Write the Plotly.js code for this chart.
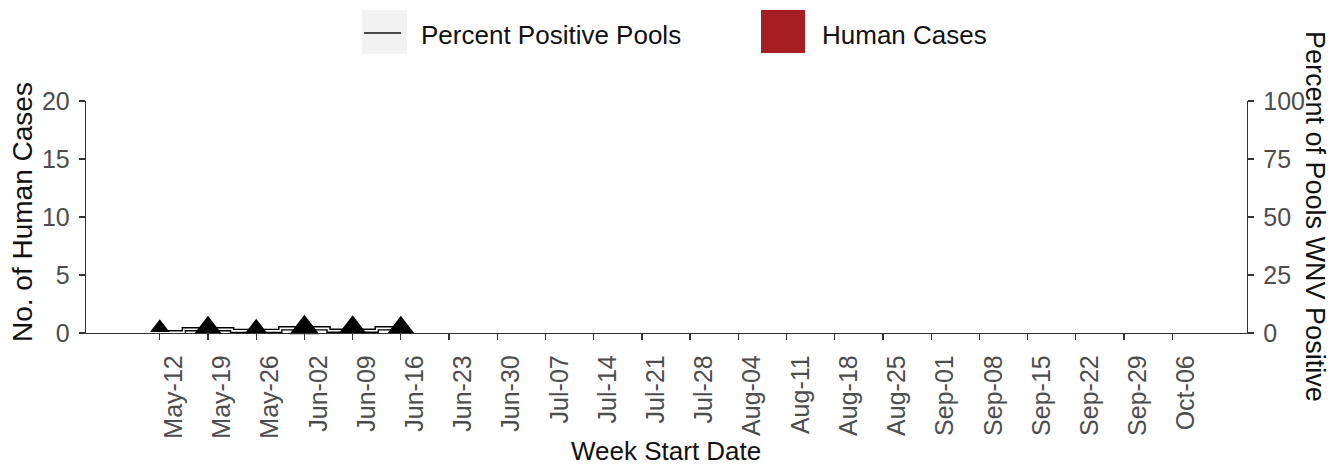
<!DOCTYPE html>
<html>
<head>
<meta charset="utf-8">
<script src="https://cdn.plot.ly/plotly-3.0.1.min.js"></script>
<style>html,body{margin:0;padding:0;background:#fff;}#chart{width:1330px;height:466px;}</style>
</head>
<body>
<div id="chart"></div>
<script>
// ---- data ----
const weeks = ["May-12","May-19","May-26","Jun-02","Jun-09","Jun-16","Jun-23","Jun-30",
  "Jul-07","Jul-14","Jul-21","Jul-28","Aug-04","Aug-11","Aug-18","Aug-25",
  "Sep-01","Sep-08","Sep-15","Sep-22","Sep-29","Oct-06"];
const humanCases = [0,0,0,0,0,0,0,0,0,0,0,0,0,0,0,0,0,0,0,0,0,0];
const sampledWeeks = ["May-12","May-19","May-26","Jun-02","Jun-09","Jun-16"];
const percentPositive = [0.3,1.6,0.9,2.0,1.0,2.0];
const sampledZero = [0,0,0,0,0,0];
const poolsTested = [6,13,7,15,14,13];
const leftTicks = [0,5,10,15,20];
const rightTicks = [0,25,50,75,100];

// ---- layout helpers ----
const L = 86, R = 1247, T = 101, B = 333;
const px = x => (x - L) / (R - L);
const py = y => (B - y) / (B - T);
const fam = "Liberation Sans, Arial, sans-serif";
const tickFont = {family: fam, size: 25, color: "#4d4d4d"};
const titleFont = {family: fam, size: 26, color: "#111"};

const traces = [
  {type: "bar", x: weeks, y: humanCases, name: "Human Cases", yaxis: "y",
   marker: {color: "#a61e22"}, showlegend: false, hoverinfo: "skip"},
  {type: "scatter", mode: "lines", x: sampledWeeks, y: percentPositive, yaxis: "y2",
   line: {shape: "hvh", color: "#000", width: 4.5}, showlegend: false},
  {type: "scatter", mode: "lines", x: sampledWeeks, y: percentPositive, yaxis: "y2",
   name: "Percent Positive Pools",
   line: {shape: "hvh", color: "#fff", width: 1.6}, showlegend: false},
  {type: "scatter", mode: "markers", x: sampledWeeks, y: sampledZero, yaxis: "y3",
   marker: {symbol: "triangle-up", color: "#000", opacity: 1, line: {width: 0},
            size: poolsTested.map(v => 11 + v)},
   opacity: 1, cliponaxis: false, showlegend: false}
];

const layout = {
  width: 1330, height: 466,
  margin: {l: L, r: 1330 - R, t: T, b: 466 - B},
  paper_bgcolor: "#fff", plot_bgcolor: "#fff",
  xaxis: {type: "category", categoryorder: "array", categoryarray: weeks,
    range: [-1.53, 22.55], showgrid: false, zeroline: false,
    showline: true, linecolor: "#333", linewidth: 1.3,
    ticks: "outside", ticklen: 6, tickcolor: "#333", tickwidth: 1.3,
    tickangle: -90, tickfont: tickFont, ticklabelstandoff: 5, ticklabelshift: 14},
  yaxis: {range: [0, 20], tickvals: leftTicks, showgrid: false, zeroline: false,
    showline: true, linecolor: "#333", linewidth: 1.3,
    ticks: "outside", ticklen: 6, tickcolor: "#333", tickwidth: 1.3,
    tickfont: tickFont, ticklabelstandoff: 4},
  yaxis2: {range: [0, 100], tickvals: rightTicks, overlaying: "y", side: "right",
    showgrid: false, zeroline: false,
    showline: true, linecolor: "#333", linewidth: 1.3,
    ticks: "outside", ticklen: 6, tickcolor: "#333", tickwidth: 1.3,
    tickfont: tickFont, ticklabelstandoff: 4},
  yaxis3: {range: [-0.45, 19.55], overlaying: "y", visible: false},
  shapes: [
    {type: "rect", xref: "paper", yref: "paper", x0: px(362), x1: px(407), y0: py(54), y1: py(10),
     fillcolor: "#f2f2f2", line: {width: 0}},
    {type: "line", xref: "paper", yref: "paper", x0: px(364), x1: px(401), y0: py(33), y1: py(33),
     line: {color: "#111", width: 1.6}},
    {type: "rect", xref: "paper", yref: "paper", x0: px(761), x1: px(805), y0: py(53), y1: py(10),
     fillcolor: "#a61e22", line: {width: 0}}
  ],
  annotations: [
    {xref: "paper", yref: "paper", x: px(419), y: py(35), xanchor: "left", yanchor: "middle",
     text: "Percent Positive Pools", showarrow: false, font: titleFont},
    {xref: "paper", yref: "paper", x: px(820), y: py(35), xanchor: "left", yanchor: "middle",
     text: "Human Cases", showarrow: false, font: titleFont},
    {xref: "paper", yref: "paper", x: px(666), y: py(451), xanchor: "center", yanchor: "middle",
     text: "Week Start Date", showarrow: false, font: titleFont},
    {xref: "paper", yref: "paper", x: px(22), y: py(212), xanchor: "center", yanchor: "middle",
     text: "No. of Human Cases", textangle: -90, showarrow: false,
     font: {family: fam, size: 28, color: "#111"}},
    {xref: "paper", yref: "paper", x: px(1315), y: py(216), xanchor: "center", yanchor: "middle",
     text: "Percent of Pools WNV Positive", textangle: 90, showarrow: false,
     font: {family: fam, size: 27, color: "#111"}}
  ]
};

Plotly.newPlot("chart", traces, layout, {displayModeBar: false, staticPlot: true});
</script>
</body>
</html>
